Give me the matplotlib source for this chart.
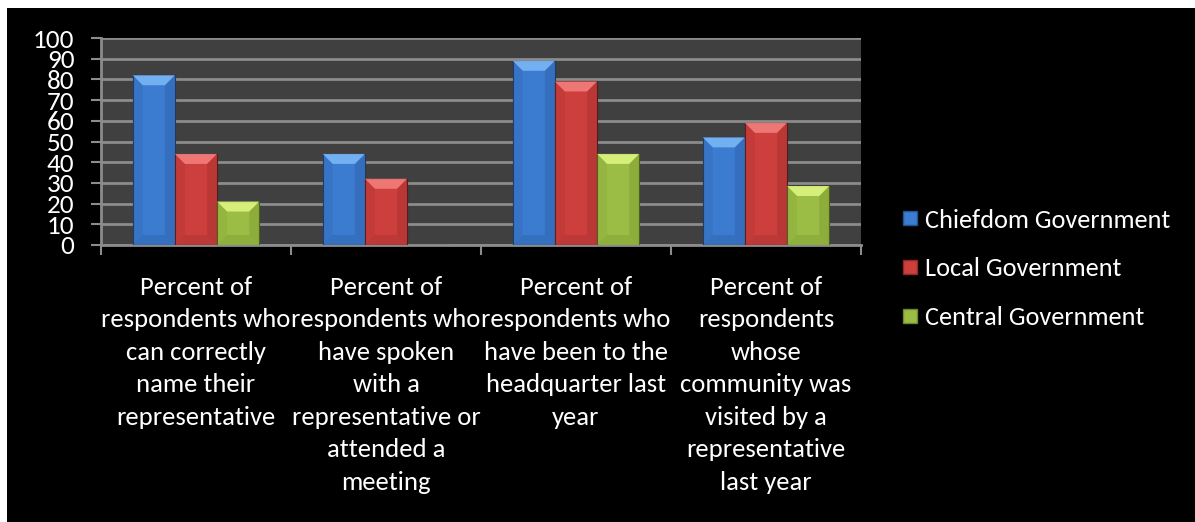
import matplotlib
matplotlib.use("Agg")
import matplotlib.pyplot as plt
from matplotlib.patches import Rectangle, Polygon
from matplotlib.lines import Line2D
import numpy as np

categories = [
    "Percent of\nrespondents who\ncan correctly\nname their\nrepresentative",
    "Percent of\nrespondents who\nhave spoken\nwith a\nrepresentative or\nattended a\nmeeting",
    "Percent of\nrespondents who\nhave been to the\nheadquarter last\nyear",
    "Percent of\nrespondents\nwhose\ncommunity was\nvisited by a\nrepresentative\nlast year",
]
series_names = ["Chiefdom Government", "Local Government", "Central Government"]
chiefdom = [82, 44, 89, 52]
local = [44, 32, 79, 59]
central = [21, 0, 44, 28.5]
yticks = list(range(0, 101, 10))

# face, light bevel, dark bevel, outline
palette = [
    ("#3b7bd0", "#7ab6f5", "#24528f", "#1f3a5e"),
    ("#cc3f3d", "#f27e7c", "#8f2827", "#5a1a1a"),
    ("#9bbd45", "#dcf57e", "#6c8828", "#4a5e1c"),
]

W, H = 1195, 522
fig = plt.figure(figsize=(W / 100, H / 100), dpi=100, facecolor="black")
plt.rcParams["font.family"] = ["Carlito", "Lato", "DejaVu Sans"]

left, right, top, bottom = 101, 861, 38, 245
ax = fig.add_axes([left / W, 1 - bottom / H, (right - left) / W, (bottom - top) / H])
ax.set_facecolor("#404040")

# white margin on top and left
fig.patches.append(Rectangle((0, 1 - 8 / H), 1, 8 / H, transform=fig.transFigure,
                             facecolor="white", edgecolor="none", zorder=10))
fig.patches.append(Rectangle((0, 0), 7 / W, 1, transform=fig.transFigure,
                             facecolor="white", edgecolor="none", zorder=10))

x = np.arange(len(categories))
bw = 0.222
xlim = (-0.5, len(categories) - 0.5)
ylim = (0, 100)
ax.set_xlim(*xlim)
ax.set_ylim(*ylim)

px_x = (xlim[1] - xlim[0]) / (right - left)
px_y = (ylim[1] - ylim[0]) / (bottom - top)
bev = 10  # bevel size in pixels

for i, vals in enumerate([chiefdom, local, central]):
    face, light, dark, edge = palette[i]
    xs = x + (i - 1) * bw
    ax.bar(xs, vals, width=bw, color=face, edgecolor=edge,
           linewidth=0.8, zorder=3, label=series_names[i])
    for xc, v in zip(xs, vals):
        if v <= 0:
            continue
        x0, x1 = xc - bw / 2, xc + bw / 2
        bx = bev * px_x
        by = min(bev * px_y, v / 2)
        # top bevel
        ax.add_patch(Polygon([(x0, v), (x1, v), (x1 - bx, v - by), (x0 + bx, v - by)],
                             closed=True, facecolor=light, edgecolor="none", alpha=0.9, zorder=4))
        # bottom bevel
        ax.add_patch(Polygon([(x0, 0), (x1, 0), (x1 - bx, by), (x0 + bx, by)],
                             closed=True, facecolor=dark, edgecolor="none", alpha=0.25, zorder=4))
        # side bevels
        ax.add_patch(Polygon([(x0, 0), (x0, v), (x0 + bx, v - by), (x0 + bx, by)],
                             closed=True, facecolor=dark, edgecolor="none", alpha=0.15, zorder=4))
        ax.add_patch(Polygon([(x1, 0), (x1, v), (x1 - bx, v - by), (x1 - bx, by)],
                             closed=True, facecolor=dark, edgecolor="none", alpha=0.3, zorder=4))

ax.set_yticks(yticks)
ax.set_yticklabels([str(t) for t in yticks], color="white", fontsize=19.5)
ax.yaxis.grid(True, color="#8c8c8c", linewidth=2, zorder=1)
ax.set_axisbelow(True)

ax.set_xticks(np.arange(len(categories) + 1) - 0.5)
ax.set_xticklabels([])
ax.set_xticks(x, minor=True)
ax.set_xticklabels(categories, minor=True, color="white", fontsize=19.2,
                   linespacing=1.5, va="top")
ax.tick_params(axis="x", which="minor", length=0, pad=22)
ax.tick_params(axis="x", which="major", length=7, width=1.5, color="#8c8c8c", direction="out")
ax.tick_params(axis="y", length=7, width=1.5, color="#8c8c8c", direction="out", pad=12)

for s in ["top", "right"]:
    ax.spines[s].set_visible(False)
for s in ["left", "bottom"]:
    ax.spines[s].set_color("#8c8c8c")
    ax.spines[s].set_linewidth(2)

handles = [Line2D([], [], linestyle="none", marker="s", markersize=10.5,
                  markerfacecolor=palette[i][0], markeredgecolor=palette[i][2],
                  markeredgewidth=1) for i in range(3)]
fig.legend(handles, series_names, loc="upper left",
           bbox_to_anchor=(889 / W, 1 - 198 / H), frameon=False,
           labelcolor="white", fontsize=19, labelspacing=0.98,
           handlelength=0.8, handletextpad=0.15, borderaxespad=0)

fig.savefig("out.png", dpi=100, facecolor="black")
